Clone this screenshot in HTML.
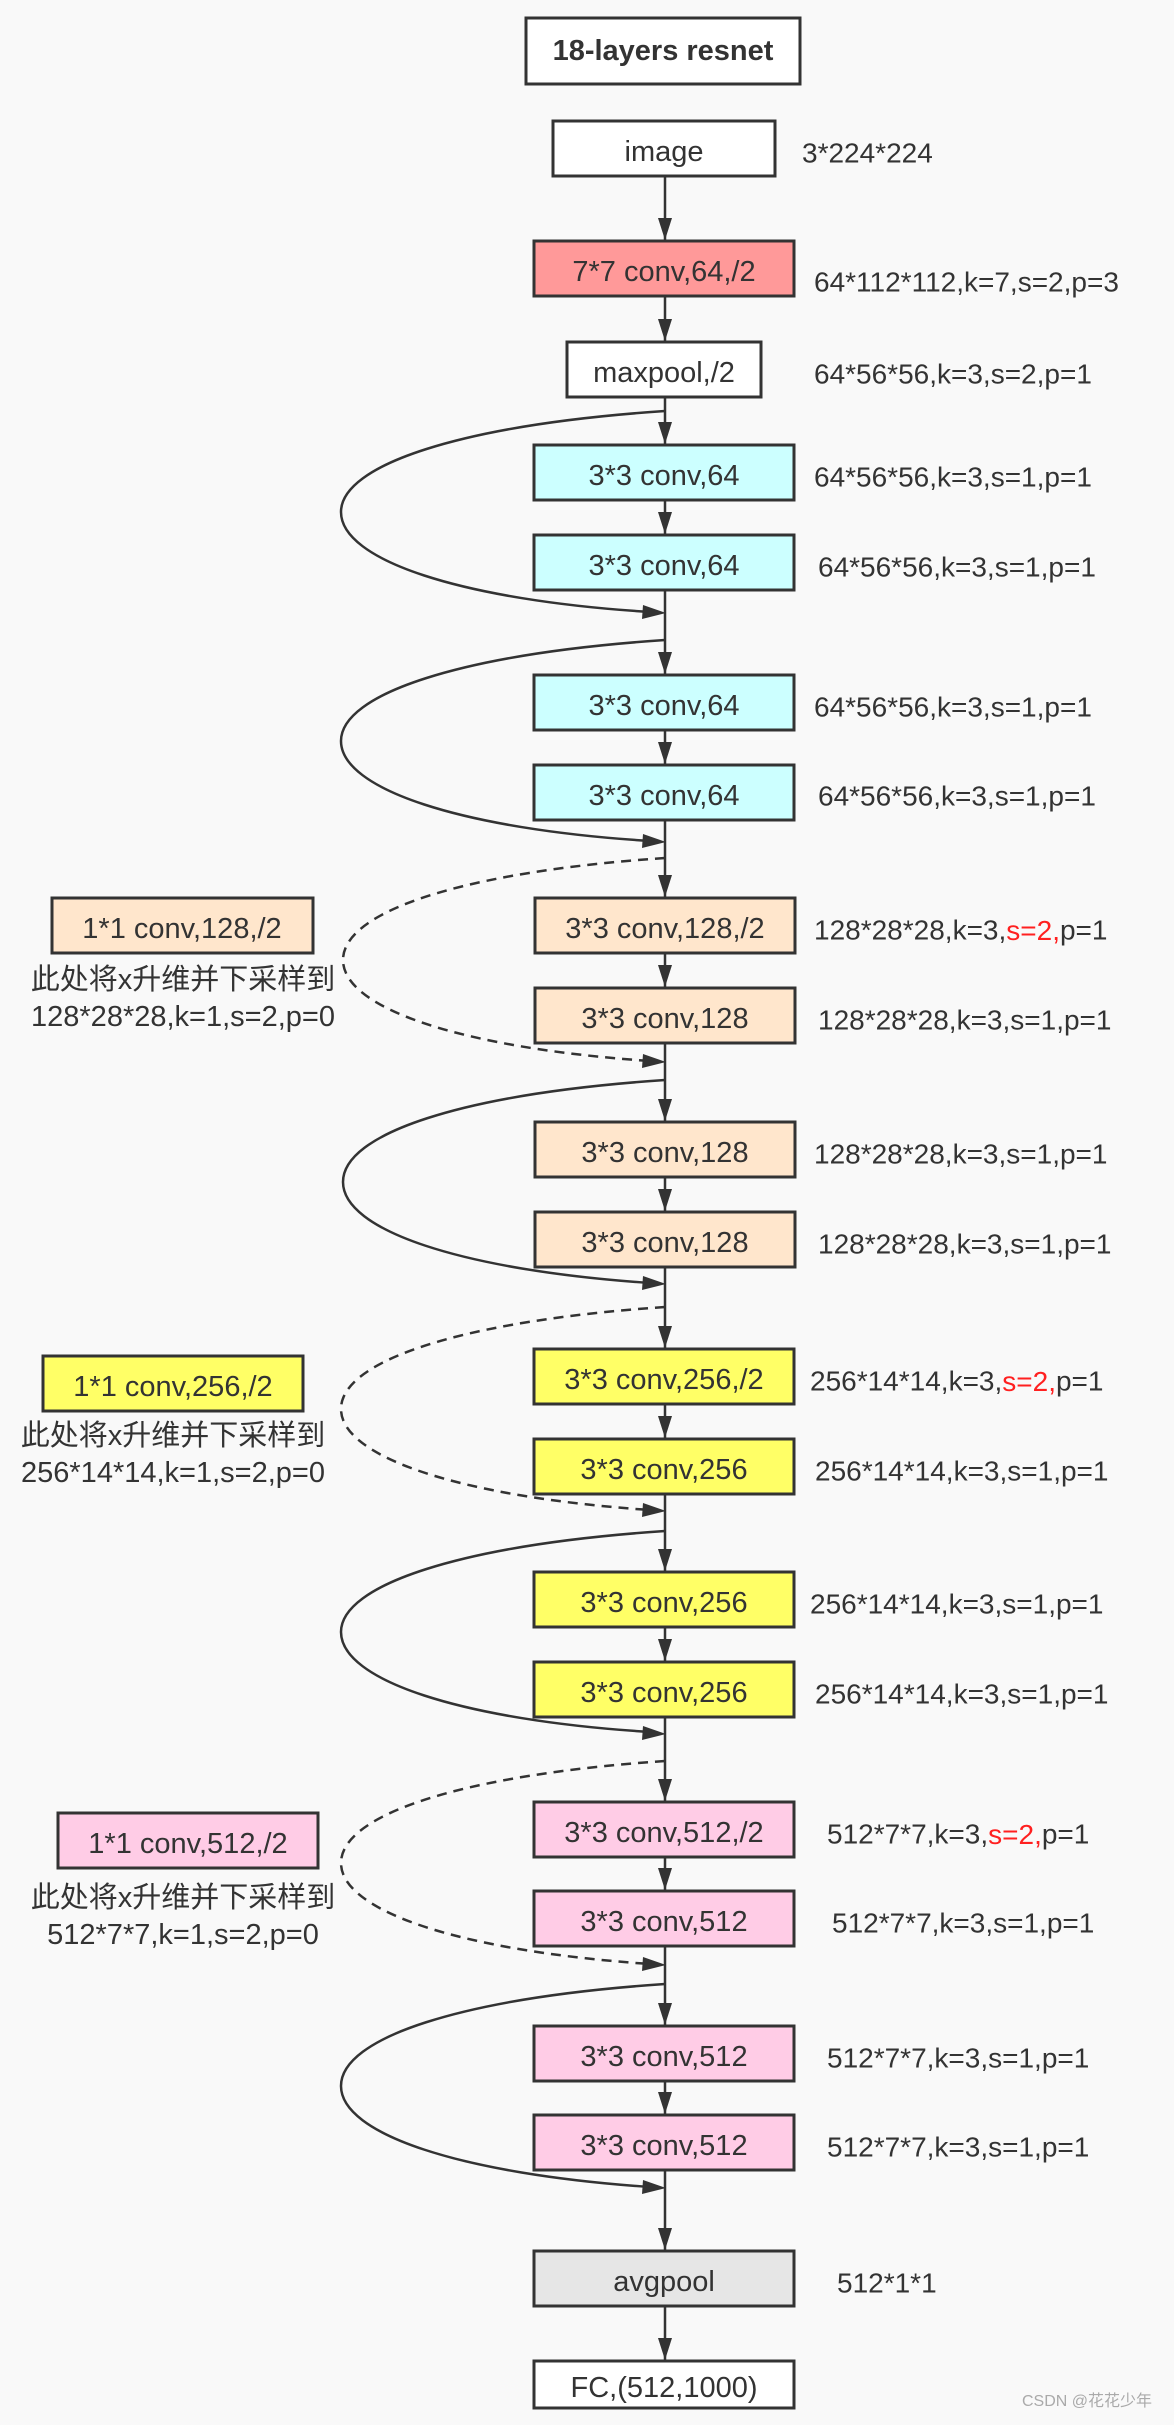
<!DOCTYPE html>
<html><head><meta charset="utf-8"><style>
html,body{margin:0;padding:0;background:#f9f9f9;}
svg{display:block;}
text{font-family:"Liberation Sans","Noto Sans CJK SC",sans-serif;fill:#333;}
</style></head><body>
<svg width="1174" height="2425" viewBox="0 0 1174 2425" xmlns="http://www.w3.org/2000/svg">
<rect width="1174" height="2425" fill="#f9f9f9"/>
<g stroke="#333" stroke-width="2.5" fill="none">
<line x1="665" y1="176" x2="665" y2="2360"/>
<path d="M665,411 C460,425 341,465 341,512 C341,560 460,600 650,612"/>
<path d="M665,640 C460,654 341,694 341,741 C341,789 460,829 650,841"/>
<path d="M665,1080 C460,1094 343,1134 343,1182 C343,1230 460,1270 650,1283"/>
<path d="M665,1531 C460,1545 341,1585 341,1632 C341,1680 460,1720 650,1732"/>
<path d="M665,1984 C460,1998 341,2038 341,2086 C341,2134 460,2174 650,2187"/>
<g stroke-dasharray="10,7">
<path d="M665,858 C460,872 343,912 343,960 C343,1008 460,1048 650,1061"/>
<path d="M665,1307 C460,1321 341,1361 341,1409 C341,1457 460,1497 650,1510"/>
<path d="M665,1761 C460,1775 341,1815 341,1863 C341,1911 460,1951 650,1964"/>
</g>
</g>
<g fill="#333">
<polygon points="665,240 658,218 672,218"/>
<polygon points="665,341 658,319 672,319"/>
<polygon points="665,444 658,422 672,422"/>
<polygon points="665,534 658,512 672,512"/>
<polygon points="665,674 658,652 672,652"/>
<polygon points="665,764 658,742 672,742"/>
<polygon points="665,897 658,875 672,875"/>
<polygon points="665,987 658,965 672,965"/>
<polygon points="665,1121 658,1099 672,1099"/>
<polygon points="665,1211 658,1189 672,1189"/>
<polygon points="665,1348 658,1326 672,1326"/>
<polygon points="665,1438 658,1416 672,1416"/>
<polygon points="665,1571 658,1549 672,1549"/>
<polygon points="665,1661 658,1639 672,1639"/>
<polygon points="665,1801 658,1779 672,1779"/>
<polygon points="665,1890 658,1868 672,1868"/>
<polygon points="665,2025 658,2003 672,2003"/>
<polygon points="665,2114 658,2092 672,2092"/>
<polygon points="665,2250 658,2228 672,2228"/>
<polygon points="665,2360 658,2338 672,2338"/>
<polygon points="666,613 643,605 642,619"/>
<polygon points="666,842 643,834 642,848"/>
<polygon points="666,1062 643,1054 642,1068"/>
<polygon points="666,1284 643,1276 642,1290"/>
<polygon points="666,1511 643,1503 642,1517"/>
<polygon points="666,1734 643,1726 642,1740"/>
<polygon points="666,1965 643,1957 642,1971"/>
<polygon points="666,2188 643,2180 642,2194"/>
</g>
<g stroke="#333" stroke-width="3">
<rect x="526" y="18" width="274" height="66" fill="#fff"/>
<rect x="553" y="121" width="222" height="55" fill="#fff"/>
<rect x="534" y="241" width="260" height="55" fill="#ff9999"/>
<rect x="567" y="342" width="194" height="55" fill="#fff"/>
<rect x="534" y="445" width="260" height="55" fill="#ccffff"/>
<rect x="534" y="535" width="260" height="55" fill="#ccffff"/>
<rect x="534" y="675" width="260" height="55" fill="#ccffff"/>
<rect x="534" y="765" width="260" height="55" fill="#ccffff"/>
<rect x="535" y="898" width="260" height="55" fill="#ffe6cc"/>
<rect x="535" y="988" width="260" height="55" fill="#ffe6cc"/>
<rect x="535" y="1122" width="260" height="55" fill="#ffe6cc"/>
<rect x="535" y="1212" width="260" height="55" fill="#ffe6cc"/>
<rect x="534" y="1349" width="260" height="55" fill="#ffff66"/>
<rect x="534" y="1439" width="260" height="55" fill="#ffff66"/>
<rect x="534" y="1572" width="260" height="55" fill="#ffff66"/>
<rect x="534" y="1662" width="260" height="55" fill="#ffff66"/>
<rect x="534" y="1802" width="260" height="55" fill="#ffcce6"/>
<rect x="534" y="1891" width="260" height="55" fill="#ffcce6"/>
<rect x="534" y="2026" width="260" height="55" fill="#ffcce6"/>
<rect x="534" y="2115" width="260" height="55" fill="#ffcce6"/>
<rect x="534" y="2251" width="260" height="55" fill="#e6e6e6"/>
<rect x="534" y="2361" width="260" height="47" fill="#fff"/>
<rect x="52" y="898" width="261" height="55" fill="#ffe6cc"/>
<rect x="43" y="1356" width="260" height="55" fill="#ffff66"/>
<rect x="58" y="1813" width="260" height="55" fill="#ffcce6"/>
</g>
<g font-size="29" text-anchor="middle" dominant-baseline="central">
<text x="663" y="51" font-weight="bold">18-layers resnet</text>
<text x="664" y="152">image</text>
<text x="664" y="272">7*7 conv,64,/2</text>
<text x="664" y="373">maxpool,/2</text>
<text x="664" y="476">3*3 conv,64</text>
<text x="664" y="566">3*3 conv,64</text>
<text x="664" y="706">3*3 conv,64</text>
<text x="664" y="796">3*3 conv,64</text>
<text x="665" y="929">3*3 conv,128,/2</text>
<text x="665" y="1019">3*3 conv,128</text>
<text x="665" y="1153">3*3 conv,128</text>
<text x="665" y="1243">3*3 conv,128</text>
<text x="664" y="1380">3*3 conv,256,/2</text>
<text x="664" y="1470">3*3 conv,256</text>
<text x="664" y="1603">3*3 conv,256</text>
<text x="664" y="1693">3*3 conv,256</text>
<text x="664" y="1833">3*3 conv,512,/2</text>
<text x="664" y="1922">3*3 conv,512</text>
<text x="664" y="2057">3*3 conv,512</text>
<text x="664" y="2146">3*3 conv,512</text>
<text x="664" y="2282">avgpool</text>
<text x="664" y="2388">FC,(512,1000)</text>
<text x="182" y="929">1*1 conv,128,/2</text>
<text x="173" y="1387">1*1 conv,256,/2</text>
<text x="188" y="1844">1*1 conv,512,/2</text>
<text x="183" y="980">此处将x升维并下采样到</text>
<text x="183" y="1017">128*28*28,k=1,s=2,p=0</text>
<text x="173" y="1436">此处将x升维并下采样到</text>
<text x="173" y="1473">256*14*14,k=1,s=2,p=0</text>
<text x="183" y="1898">此处将x升维并下采样到</text>
<text x="183" y="1935">512*7*7,k=1,s=2,p=0</text>
</g>
<g font-size="28" dominant-baseline="central">
<text x="802" y="153">3*224*224</text>
<text x="814" y="282">64*112*112,k=7,s=2,p=3</text>
<text x="814" y="374">64*56*56,k=3,s=2,p=1</text>
<text x="814" y="477">64*56*56,k=3,s=1,p=1</text>
<text x="818" y="567">64*56*56,k=3,s=1,p=1</text>
<text x="814" y="707">64*56*56,k=3,s=1,p=1</text>
<text x="818" y="796">64*56*56,k=3,s=1,p=1</text>
<text x="814" y="930">128*28*28,k=3,<tspan fill="#ff2020">s=2,</tspan>p=1</text>
<text x="818" y="1020">128*28*28,k=3,s=1,p=1</text>
<text x="814" y="1154">128*28*28,k=3,s=1,p=1</text>
<text x="818" y="1244">128*28*28,k=3,s=1,p=1</text>
<text x="810" y="1381">256*14*14,k=3,<tspan fill="#ff2020">s=2,</tspan>p=1</text>
<text x="815" y="1471">256*14*14,k=3,s=1,p=1</text>
<text x="810" y="1604">256*14*14,k=3,s=1,p=1</text>
<text x="815" y="1694">256*14*14,k=3,s=1,p=1</text>
<text x="827" y="1834">512*7*7,k=3,<tspan fill="#ff2020">s=2,</tspan>p=1</text>
<text x="832" y="1923">512*7*7,k=3,s=1,p=1</text>
<text x="827" y="2058">512*7*7,k=3,s=1,p=1</text>
<text x="827" y="2147">512*7*7,k=3,s=1,p=1</text>
<text x="837" y="2283">512*1*1</text>
</g>
<text x="1022" y="2406" font-size="16" fill="#aaa" style="fill:#aaa">CSDN @花花少年</text>
</svg>
</body></html>
